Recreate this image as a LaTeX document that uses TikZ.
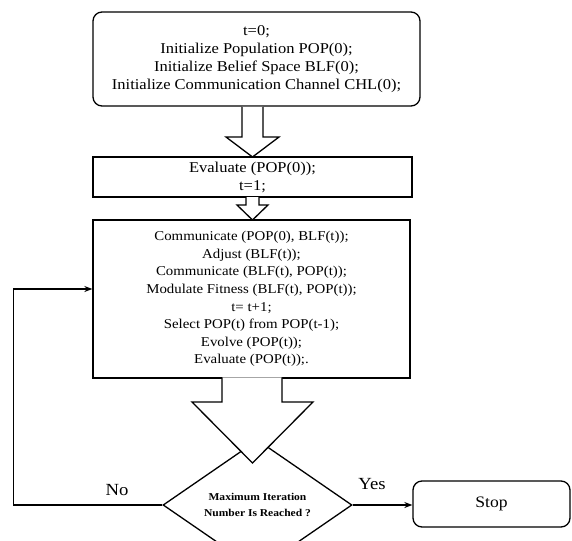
\documentclass[tikz,border=0pt]{standalone}
\usepackage{fontspec}
\setmainfont[FakeStretch=1.1]{Liberation Serif}
\usetikzlibrary{arrows.meta,shapes.geometric}
\begin{document}
\begin{tikzpicture}[x=1pt,y=-1pt,line width=1.3pt,
  rbox/.style={draw,rounded corners=9pt,align=center,inner sep=0pt},
  sbox/.style={draw,align=center,inner sep=0pt},
  hollow/.style={draw,fill=white,line width=1.3pt},
  flow/.style={line width=1.3pt,-{Stealth[length=8pt,width=6pt]}}]
\useasboundingbox (0,0) rectangle (572,540);
\node[rbox,minimum width=327pt,minimum height=94pt,font=\fontsize{15}{18}\selectfont] (init) at (256.5,59)
  {t=0;\\Initialize Population POP(0);\\Initialize Belief Space BLF(0);\\Initialize Communication Channel CHL(0);};
\node[sbox,minimum width=319pt,minimum height=40pt,font=\fontsize{15}{18}\selectfont] (eval) at (252.5,177)
  {Evaluate (POP(0));\\t=1;};
\node[sbox,minimum width=317pt,minimum height=158pt,font=\fontsize{13.5}{17.6}\selectfont] (main) at (251.5,299)
  {Communicate (POP(0), BLF(t));\\Adjust (BLF(t));\\Communicate (BLF(t), POP(t));\\Modulate Fitness (BLF(t), POP(t));\\t= t+1;\\Select POP(t) from POP(t-1);\\Evolve (POP(t));\\Evaluate (POP(t));.};
\node[diamond,draw,minimum width=189pt,minimum height=68pt,inner sep=0pt,align=center,font=\fontsize{10.5}{16}\selectfont\bfseries] (dec) at (257.5,505)
  {Maximum Iteration\\Number Is Reached ?};
\node[rbox,minimum width=157pt,minimum height=46pt,font=\fontsize{16}{18}\selectfont] (stop) at (491.5,504) {Stop};
\draw[hollow] (242,107) -- (242,137) -- (226,137) -- (252.5,157) -- (279,137) -- (263,137) -- (263,107);
\draw[hollow] (246,197) -- (246,205) -- (237,205) -- (252.5,220) -- (268,205) -- (259,205) -- (259,197);
\fill[white] (222,378) rectangle (282,380);
\draw[hollow] (222,377.35) -- (222,402) -- (192,402) -- (252.5,463) -- (313,402) -- (282,402) -- (282,377.35);
\draw[flow] (dec.west) -- ++(-149,0) |- ([yshift=10pt]main.west);
\draw[flow] (dec.east) -- (dec.east -| stop.west);
\node[font=\fontsize{17}{18}\selectfont] (no) at (117,490) {No};
\node[font=\fontsize{17}{18}\selectfont] (yes) at (372,484) {Yes};
\end{tikzpicture}
\end{document}
